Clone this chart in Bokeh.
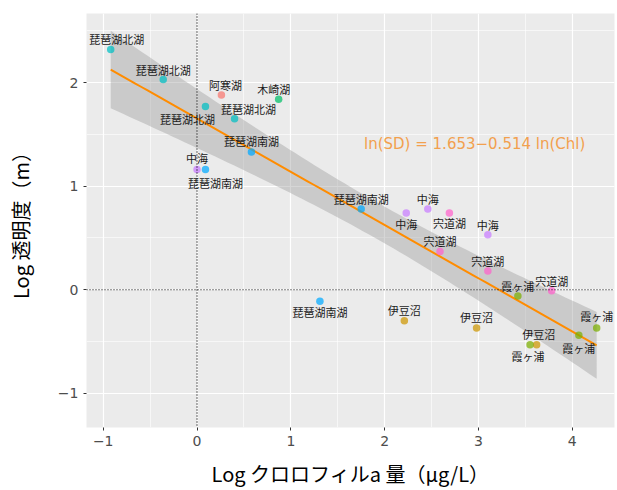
import numpy as np
from bokeh.plotting import figure
from bokeh.models import ColumnDataSource, Span, Label, SingleIntervalTicker, Range1d
from bokeh.core.properties import value
from bokeh.embed import file_html
from bokeh.resources import INLINE

# ---- data ----
lake = ["琵琶湖北湖", "琵琶湖北湖", "阿寒湖", "木崎湖", "琵琶湖北湖", "琵琶湖北湖",
        "琵琶湖南湖", "中海", "琵琶湖南湖", "琵琶湖南湖", "中海", "中海", "宍道湖",
        "中海", "宍道湖", "宍道湖", "宍道湖", "霞ヶ浦", "琵琶湖南湖", "伊豆沼",
        "伊豆沼", "伊豆沼", "霞ヶ浦", "霞ヶ浦", "霞ヶ浦"]
log_chl = [-0.92, -0.36, 0.26, 0.87, 0.09, 0.40, 0.58, 0.00, 0.09, 1.75, 2.23,
           2.46, 2.69, 3.10, 2.59, 3.10, 3.78, 3.42, 1.31, 2.21, 2.98, 3.62,
           3.55, 4.07, 4.26]
log_sd = [2.32, 2.03, 1.88, 1.84, 1.77, 1.65, 1.33, 1.16, 1.16, 0.78, 0.74,
          0.78, 0.74, 0.53, 0.37, 0.18, -0.01, -0.06, -0.11, -0.30, -0.37,
          -0.53, -0.53, -0.44, -0.37]
intercept = 1.653
slope = -0.514
equation = "ln(SD) = 1.653−0.514 ln(Chl)"

# ---- styles ----
lake_colors = {"阿寒湖": "#F8766D", "伊豆沼": "#CD9600", "霞ヶ浦": "#7CAE00",
               "木崎湖": "#00BE67", "琵琶湖北湖": "#00BFC4", "琵琶湖南湖": "#00A9FF",
               "中海": "#C77CFF", "宍道湖": "#FF61CC"}
label_dx = [6, 0, 4, -5, -18, 14, 0, 0, 10, 0, 0, 0, 0, 0, 0, 0, 0, 0, 0, 0, 0, 2, -2, 0, 0]
label_dy = [-10, -9, -10, -10, 13, -10, -11, -12, 13, -10, 11, -10, 10, -10, -10, -10,
            -10, -10, 11, -11, -11, -11, 11, 13, -12]

FONT = "Noto Sans CJK JP"
LATIN = "DejaVu Sans"

x = np.array(log_chl)
y = np.array(log_sd)
n = len(x)

# regression line and 95% confidence band
xs = np.linspace(x.min(), x.max(), 80)
ys = intercept + slope * xs
resid = y - (intercept + slope * x)
s = np.sqrt(np.sum(resid ** 2) / (n - 2))
sxx = np.sum((x - x.mean()) ** 2)
t = 2.069
se = s * np.sqrt(1.0 / n + (xs - x.mean()) ** 2 / sxx)

src = ColumnDataSource(dict(x=x, y=y, lake=lake,
                            color=[lake_colors[k] for k in lake],
                            dx=label_dx, dy=label_dy))

p = figure(width=617, height=490, output_backend="svg", toolbar_location=None,
           x_range=Range1d(-1.178, 4.45), y_range=Range1d(-1.33, 2.667),
           min_border_left=86, min_border_right=3, min_border_top=13,
           min_border_bottom=60)
p.background_fill_color = "#EBEBEB"
p.border_fill_color = "white"
p.outline_line_color = None

for ax in (p.xaxis, p.yaxis):
    ax.axis_line_color = None
    ax.major_tick_line_color = "#333333"
    ax.major_tick_out = 3
    ax.major_tick_in = 0
    ax.minor_tick_line_color = None
    ax.major_label_text_font = LATIN
    ax.major_label_text_font_size = "14px"
    ax.major_label_text_color = "#4D4D4D"
    ax.axis_label_text_font = FONT
    ax.axis_label_text_font_size = "20px"
    ax.axis_label_text_font_style = "normal"
    ax.axis_label_text_color = "black"
    ax.major_label_standoff = 4

p.xaxis.ticker = SingleIntervalTicker(interval=1, num_minor_ticks=2)
p.yaxis.ticker = SingleIntervalTicker(interval=1, num_minor_ticks=2)
p.xaxis.axis_label = "Log クロロフィルa 量（μg/L）"
p.yaxis.axis_label = "Log 透明度（m）"
p.xaxis.axis_label_standoff = 10
p.yaxis.axis_label_standoff = 20

for g in (p.xgrid, p.ygrid):
    g.grid_line_color = "white"
    g.grid_line_width = 1.2
    g.minor_grid_line_color = "white"
    g.minor_grid_line_width = 0.6

p.add_layout(Span(location=0, dimension="height", line_color="black",
                  line_dash="1 2", line_width=1.2))
p.add_layout(Span(location=0, dimension="width", line_color="black",
                  line_dash="1 2", line_width=1.2))

p.varea(x=xs, y1=ys - t * se, y2=ys + t * se, fill_color="#999999", fill_alpha=0.4)
p.line(xs, ys, line_color="#FF8C00", line_width=2)

p.scatter("x", "y", source=src, size=7.5, fill_color="color", line_color=None,
          fill_alpha=0.72)
p.text("x", "y", text="lake", source=src, x_offset="dx", y_offset="dy",
       text_align="center", text_baseline="middle", text_font=value(FONT),
       text_font_size="11px", text_color="#1A1A1A")

p.add_layout(Label(x=1.78, y=1.41, text=equation, text_align="left",
                   text_baseline="middle", text_font=LATIN,
                   text_font_size="15px", text_color="#F2A04E"))

open("out.html", "w").write(file_html(p, INLINE))
